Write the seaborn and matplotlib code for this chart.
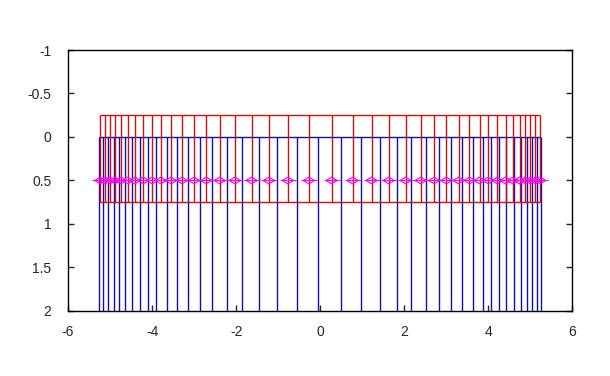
#!/usr/bin/env python3

import matplotlib

matplotlib.use("Agg")
import matplotlib.pylab as plt
import pandas as pd
import seaborn as sns

# Blue grid lines (x positions), drawn from y=0 downwards
blue_x = [
    -5.27, -5.16, -5.05, -4.91, -4.79, -4.65, -4.48, -4.29, -4.10, -3.90,
    -3.64, -3.40, -3.14, -2.87, -2.58, -2.22, -1.86, -1.46, -1.02, -0.56,
    -0.05, 0.49, 0.98, 1.41, 1.83, 2.16, 2.52, 2.83, 3.11, 3.37,
    3.63, 3.87, 4.07, 4.25, 4.43, 4.62, 4.77, 4.91, 5.03, 5.15, 5.26,
]

# Red cell centres (x positions), also where the magenta markers sit
red_x = [
    -5.23, -5.12, -5.00, -4.88, -4.74, -4.58, -4.41, -4.21, -4.00, -3.79,
    -3.55, -3.29, -3.00, -2.71, -2.39, -2.03, -1.63, -1.22, -0.77, -0.27,
    0.27, 0.77, 1.22, 1.63, 2.03, 2.39, 2.71, 3.00, 3.29, 3.55,
    3.79, 4.00, 4.21, 4.41, 4.58, 4.74, 4.88, 5.00, 5.12, 5.23,
]

blue_top, blue_bottom = 0.0, 2.2
red_top, red_bottom = -0.25, 0.75
marker_y = 0.5

x_ticks = [-6, -4, -2, 0, 2, 4, 6]
y_ticks = [-1, -0.5, 0, 0.5, 1, 1.5, 2]
y_labels = ["-1", "-0.5", "0", "0.5", "1", "1.5", "2"]

sns.set_style("white")
plt.rcParams["font.family"] = ["Liberation Sans", "DejaVu Sans"]

blue = "#1010a8"
red = "#cc1111"
magenta = "#ff00ff"

fig = plt.figure(figsize=(6.10, 3.76), dpi=100)
ax = fig.add_axes([0.1115, 0.173, 0.827, 0.694])

# Blue lines
ax.vlines(blue_x, blue_top, blue_bottom, color=blue, linewidth=1)
ax.hlines(blue_top, min(blue_x), max(blue_x), color=blue, linewidth=1)

# Red boxes
ax.vlines(red_x, red_top, red_bottom, color=red, linewidth=1)
ax.hlines([red_top, red_bottom], min(red_x), max(red_x), color=red, linewidth=1)

# Magenta markers: open diamond with a short horizontal stroke
pts = pd.DataFrame({"x": red_x, "y": [marker_y] * len(red_x)})
diamond = [(-1, 0), (0, 0.6), (1, 0), (0, -0.6), (-1, 0)]
sns.scatterplot(
    data=pts, x="x", y="y", ax=ax, marker=diamond, s=65,
    facecolor="none", edgecolor=magenta, linewidth=0.8, zorder=5,
)
ax.plot(red_x, [marker_y] * len(red_x), linestyle="none", marker="_",
        markersize=11, color=magenta, markeredgewidth=0.8, zorder=5)

ax.set_xlim(-6, 6)
ax.set_ylim(2, -1)
ax.set_xticks(x_ticks)
ax.set_xticklabels([str(t) for t in x_ticks])
ax.set_yticks(y_ticks)
ax.set_yticklabels(y_labels)
ax.set_xlabel("")
ax.set_ylabel("")

ax.tick_params(axis="x", direction="in", length=4, width=1, pad=10,
               labelsize=10, bottom=True, top=False)
ax.tick_params(axis="y", direction="in", length=4, width=1, pad=12,
               labelsize=10, left=True, right=True)

for s in ax.spines.values():
    s.set_color("black")
    s.set_linewidth(1)

plt.savefig("out.png", dpi=100)
